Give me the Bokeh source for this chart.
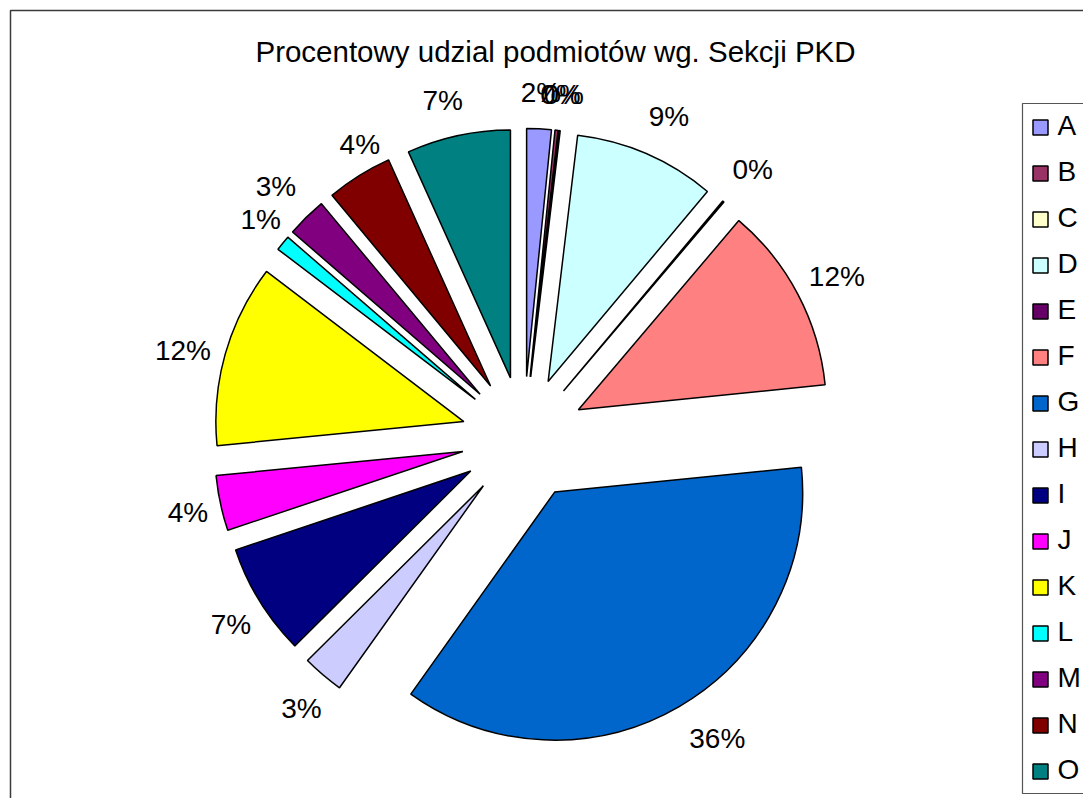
import math
from bokeh.plotting import figure
from bokeh.models import Range1d, ColumnDataSource
from bokeh.core.properties import value
from bokeh.embed import file_html
from bokeh.resources import INLINE

# ---- data ----
title_text = "Procentowy udzial podmiotów wg. Sekcji PKD"
sections = ["A", "B", "C", "D", "E", "F", "G", "H", "I", "J", "K", "L", "M", "N", "O"]
shares = [1.6, 0.2, 0.1, 9.2, 0.1, 12.2, 36.45, 2.7, 7.3, 3.6, 11.9, 1.0, 2.6, 4.3, 6.75]
colors = ["#9999FF", "#993366", "#FFFFCC", "#CCFFFF", "#660066", "#FF8080", "#0066CC",
          "#CCCCFF", "#000080", "#FF00FF", "#FFFF00", "#00FFFF", "#800080", "#800000",
          "#008080"]

# ---- layout (pixel-like data units) ----
W, H = 1083, 798
def X(px):  # image x -> data x
    return px
def Y(py):  # image y -> data y
    return H - py

cx, cy = X(523), Y(438)
R = 248.0
EXPL = 62.0
FONT = "Liberation Sans"
FS = 28.0
TXT_DY = 2  # small vertical correction for middle baseline
# small label nudges (image px: dx, dy) mimicking Excel's label placement
LABEL_NUDGE = {"D": (8, -4), "E": (6, -4), "G": (16, 5), "H": (2, 10), "I": (2, 7),
               "J": (3, 4), "K": (0, 8), "L": (6, 0), "M": (-5, -4), "N": (20, 0),
               "O": (-8, 0)}

total = sum(shares)
starts, ends, wx, wy, lx, ly, labels = [], [], [], [], [], [], []
cum = 0.0
for name, s in zip(sections, shares):
    t0 = cum / total * 2 * math.pi
    cum += s
    t1 = cum / total * 2 * math.pi
    mid = (t0 + t1) / 2
    ux, uy = math.sin(mid), math.cos(mid)
    starts.append(math.pi / 2 - t0)
    ends.append(math.pi / 2 - t1)
    wx.append(cx + EXPL * ux)
    wy.append(cy + EXPL * uy)
    lab = f"{round(s / total * 100)}%"
    labels.append(lab)
    digits = len(lab) - 1
    tw = FS * (0.556 * digits + 0.889)
    ndx, ndy = LABEL_NUDGE.get(name, (0, 0))
    lx.append(cx + (R + EXPL) * ux + ux * (tw / 2 + 16) + ndx)
    ly.append(cy + (R + EXPL) * uy + uy * 34 + TXT_DY - ndy)

src = ColumnDataSource(dict(x=wx, y=wy, start=starts, end=ends, color=colors,
                            lx=lx, ly=ly, lab=labels))

p = figure(width=W, height=H, x_range=Range1d(0, W), y_range=Range1d(0, H),
           x_axis_type=None, y_axis_type=None, toolbar_location=None,
           output_backend="svg", min_border=0)
p.outline_line_color = None
p.grid.visible = False
p.background_fill_color = "white"
p.border_fill_color = "white"

# outer chart frame (right/bottom extend beyond view)
p.quad(left=[X(10)], right=[X(1120)], top=[Y(10)], bottom=[Y(830)],
       fill_color=None, line_color="#3a3a3a", line_width=1.5)

# pie slices
p.wedge(x="x", y="y", radius=R, start_angle="start", end_angle="end",
        direction="clock", fill_color="color", line_color="black",
        line_width=1.5, source=src)

# percent labels
p.text(x="lx", y="ly", text="lab", source=src, text_align="center",
       text_baseline="middle", text_font=value(FONT), text_font_size="28px",
       text_color="black")

# title
p.text(x=[X(555)], y=[Y(53) + TXT_DY], text=[title_text], text_align="center",
       text_baseline="middle", text_font=value(FONT), text_font_size="29.5px",
       text_color="black")

# legend
p.quad(left=[X(1022)], right=[X(1120)], top=[Y(103)], bottom=[Y(793)],
       fill_color="white", line_color="#555555", line_width=1.2)
row_y = [Y(127 + 46 * i) for i in range(len(sections))]
p.rect(x=[X(1040)] * len(sections), y=row_y, width=15, height=15,
       fill_color=colors, line_color="black", line_width=1.5)
p.text(x=[X(1057)] * len(sections), y=[v + TXT_DY for v in row_y], text=sections,
       text_align="left", text_baseline="middle", text_font=value(FONT),
       text_font_size="28px", text_color="black")

open("out.html", "w").write(file_html(p, INLINE))
